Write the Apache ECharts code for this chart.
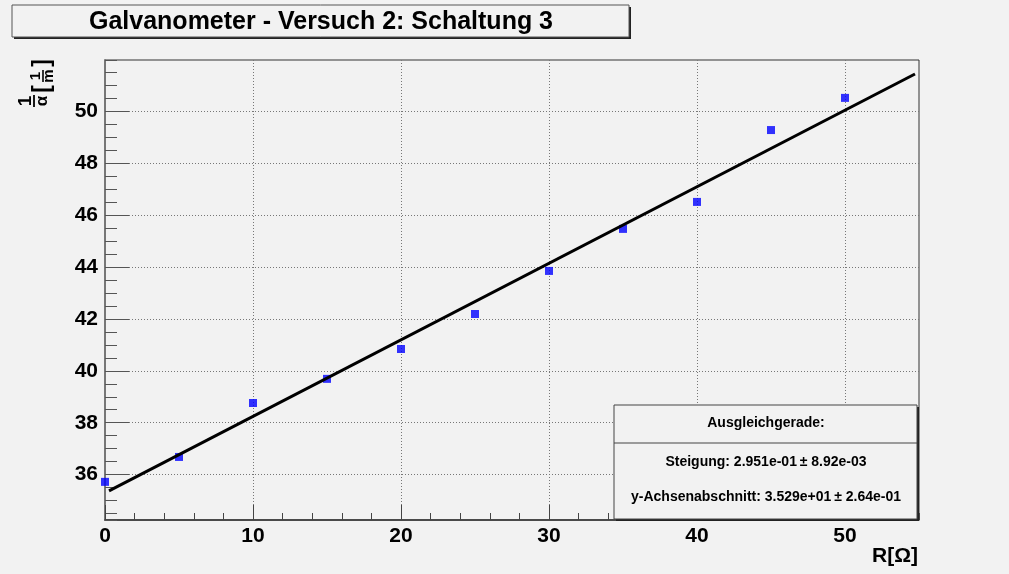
<!DOCTYPE html>
<html>
<head>
<meta charset="utf-8">
<script src="https://cdn.jsdelivr.net/npm/echarts@6/dist/echarts.min.js"></script>
<style>
  html, body { margin: 0; padding: 0; background: #f2f2f2; }
  #chart { width: 1009px; height: 574px; }
</style>
</head>
<body>
<div id="chart"></div>
<script>
"use strict";

// measured points: R in Ohm, 1/alpha in 1/m
const resistance = [0, 5, 10, 15, 20, 25, 30, 35, 40, 45, 50];
const inverseAlpha = [35.72, 36.68, 38.76, 39.69, 40.84, 42.19, 43.85, 45.47, 46.51, 49.28, 50.52];

// drawn fit line (Ausgleichgerade), end points
const fitX = [0.27, 54.73];
const fitY = [35.37, 51.44];

// axis ranges
const xRange = [0, 55];
const yRange = [34.25, 51.98];

const statsLines = [
  "Ausgleichgerade:",
  "Steigung: 2.951e-01\u2009\u00b1 8.92e-03",
  "y-Achsenabschnitt: 3.529e+01\u2009\u00b1 2.64e-01"
];

const FONT = "Liberation Sans, Arial, sans-serif";
const BG = "#f2f2f2";

const chart = echarts.init(document.getElementById("chart"), null, {
  renderer: "canvas"
});

const gridLine = {
  show: true,
  showMinLine: false,
  showMaxLine: false,
  lineStyle: { color: "#777", width: 1, type: [1, 2] }
};

const labelStyle = {
  color: "#000",
  fontFamily: FONT,
  fontWeight: "bold",
  fontSize: 21
};

// small helper for the rotated fraction label
function txt(text, x, y, size) {
  return {
    type: "text",
    x,
    y,
    style: {
      text,
      font: "bold " + size + "px " + FONT,
      fill: "#000",
      align: "center",
      verticalAlign: "middle"
    }
  };
}

const option = {
  backgroundColor: BG,
  animation: false,
  grid: {
    left: 105,
    top: 60,
    width: 814,
    height: 460,
    outerBoundsMode: "none",
    containLabel: false,
    show: true,
    backgroundColor: BG,
    borderColor: "#333",
    borderWidth: 1
  },
  xAxis: [
    {
      type: "value",
      min: xRange[0],
      max: xRange[1],
      interval: 10,
      position: "bottom",
      axisLine: { show: true, lineStyle: { color: "#333", width: 1.5 } },
      axisTick: { inside: true, length: 15, lineStyle: { color: "#444" } },
      axisLabel: Object.assign({ margin: 6, showMaxLabel: false }, labelStyle),
      splitLine: gridLine
    },
    {
      type: "value",
      min: xRange[0],
      max: xRange[1],
      interval: 2,
      position: "bottom",
      axisLine: { show: false },
      axisTick: { inside: true, length: 7, lineStyle: { color: "#444" } },
      axisLabel: { show: false },
      splitLine: { show: false }
    }
  ],
  yAxis: [
    {
      type: "value",
      min: yRange[0],
      max: yRange[1],
      minInterval: 2,
      maxInterval: 2,
      position: "left",
      axisLine: { show: true, lineStyle: { color: "#777", width: 2 } },
      axisTick: { inside: true, length: 24, lineStyle: { color: "#555" } },
      axisLabel: Object.assign(
        { margin: 7, showMinLabel: false, showMaxLabel: false },
        labelStyle
      ),
      splitLine: gridLine
    },
    {
      type: "value",
      min: yRange[0],
      max: yRange[1],
      minInterval: 0.5,
      maxInterval: 0.5,
      position: "left",
      axisLine: { show: false },
      axisTick: { inside: true, length: 12, lineStyle: { color: "#555" } },
      axisLabel: { show: false },
      splitLine: { show: false }
    }
  ],
  series: [
    {
      type: "scatter",
      xAxisIndex: 0,
      yAxisIndex: 0,
      symbol: "rect",
      symbolSize: 8,
      itemStyle: { color: "#0000ff" },
      data: resistance.map((r, i) => [r, inverseAlpha[i]]),
      z: 3
    },
    {
      type: "line",
      xAxisIndex: 0,
      yAxisIndex: 0,
      showSymbol: false,
      lineStyle: { color: "#000", width: 3 },
      data: fitX.map((x, i) => [x, fitY[i]]),
      z: 4
    }
  ],
  graphic: [
    // title box
    {
      type: "rect",
      shape: { x: 14, y: 7, width: 617, height: 32 },
      style: { fill: "#222" },
      z: 10
    },
    {
      type: "rect",
      shape: { x: 12, y: 5, width: 617, height: 32 },
      style: { fill: BG, stroke: "#555", lineWidth: 1 },
      z: 11
    },
    {
      type: "text",
      x: 321,
      y: 22,
      style: {
        text: "Galvanometer - Versuch 2: Schaltung 3",
        font: "bold 25px " + FONT,
        fill: "#000",
        align: "center",
        verticalAlign: "middle"
      },
      z: 12
    },
    // stats box
    {
      type: "rect",
      shape: { x: 616, y: 407, width: 303, height: 114 },
      style: { fill: "#222" },
      z: 10
    },
    {
      type: "rect",
      shape: { x: 614, y: 405, width: 303, height: 114 },
      style: { fill: BG, stroke: "#444", lineWidth: 1 },
      z: 11
    },
    {
      type: "line",
      shape: { x1: 614, y1: 443, x2: 917, y2: 443 },
      style: { stroke: "#444", lineWidth: 1 },
      z: 12
    },
    ...statsLines.map((s, i) => ({
      type: "text",
      x: 766,
      y: [423, 462, 497][i],
      style: {
        text: s,
        font: "bold 14px " + FONT,
        fill: "#000",
        align: "center",
        verticalAlign: "middle"
      },
      z: 12
    })),
    // x axis title
    {
      type: "text",
      x: 918,
      y: 556,
      style: {
        text: "R[\u03a9]",
        font: "bold 21px " + FONT,
        fill: "#000",
        align: "right",
        verticalAlign: "middle"
      },
      z: 12
    },
    // y axis title: 1/alpha [1/m], rotated
    {
      type: "group",
      x: 34,
      y: 84,
      rotation: Math.PI / 2,
      z: 12,
      children: [
        txt("1", -17, -8, 19),
        {
          type: "line",
          shape: { x1: -23, y1: 0, x2: -11, y2: 0 },
          style: { stroke: "#000", lineWidth: 1.8 }
        },
        txt("\u03b1", -17, 8, 17),
        txt("[", -5, 9, 23),
        txt("1", 8, 2, 15),
        {
          type: "line",
          shape: { x1: 2, y1: 9, x2: 14, y2: 9 },
          style: { stroke: "#000", lineWidth: 1.6 }
        },
        txt("m", 8, 15, 15),
        txt("]", 21, 9, 23)
      ]
    }
  ]
};

chart.setOption(option);
</script>
</body>
</html>
